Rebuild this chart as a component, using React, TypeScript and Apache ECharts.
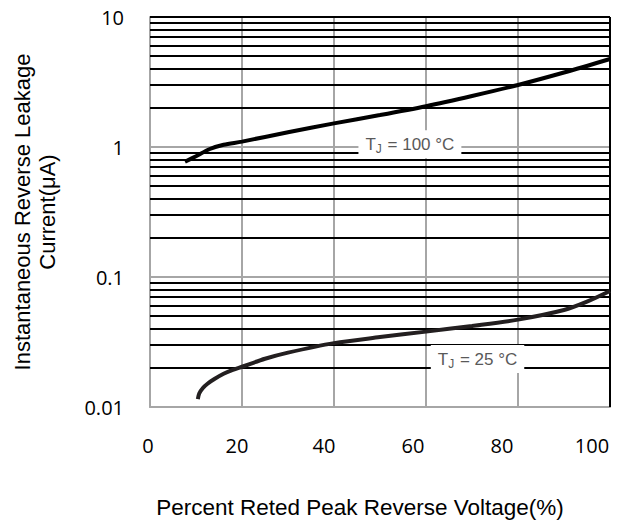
import React, { useEffect, useRef } from "react";
import * as echarts from "echarts";

// ---- data ----
const xTicks = [0, 20, 40, 60, 80, 100];
const yTickLabels = ["0.01", "0.1", "1", "10"];

const x100 = [7.6, 10, 13, 16, 20, 30, 40, 50, 60, 70, 80, 90, 100];
const y100 = [0.77, 0.85, 0.965, 1.04, 1.1, 1.3, 1.52, 1.76, 2.06, 2.47, 3.0, 3.74, 4.75];

const x25 = [10.4, 10.7, 11.5, 12.5, 14, 16, 18, 20, 25, 30, 40, 50, 60, 70, 80, 90, 95, 100];
const y25 = [0.0115, 0.0127, 0.014, 0.0151, 0.0164, 0.018, 0.0193, 0.0204, 0.0235, 0.0262, 0.031, 0.0345, 0.038, 0.042, 0.047, 0.0557, 0.0646, 0.078];

const decades = [0.01, 0.1, 1];
const minorMultipliers = [2, 3, 4, 5, 6, 7, 8, 9];

const label100 = { x: 56.5, y: 1.05, temp: "100" };
const label25 = { x: 71.2, y: 0.0234, temp: "25" };

// label shifts (layout only)
const xLabelShift = [2, 5, 10, 13, 16, 18];

export default function App() {
  const ref = useRef<HTMLDivElement>(null);
  useEffect(() => {
    if (!ref.current) return;
    const chart = echarts.init(ref.current, undefined, { renderer: "svg" });
    const gray = "#a6a6a6";
    const minorLines: any[] = [];
    decades.forEach((d) => minorMultipliers.forEach((m) => minorLines.push({ yAxis: +(d * m).toPrecision(3) })));
    minorLines.push({ yAxis: 10 });
    minorLines.push({ xAxis: 100 });

    const rich: any = {};
    xTicks.forEach((_, i) => {
      rich["s" + i] = {
        fontFamily: "Open Sans",
        fontSize: 20,
        color: "#000",
        padding: [0, xLabelShift[i] * 2, 0, 0],
      };
    });

    const tjRich = {
      a: { fontFamily: "Liberation Sans", fontSize: 17, color: "#595959" },
      b: { fontFamily: "Liberation Sans", fontSize: 12, color: "#595959", padding: [9, 1, 0, 0] },
    };
    const mkLabel = (l: any) => ({
      z: 10,
      symbol: "rect",
      symbolSize: 1,
      itemStyle: { color: "rgba(0,0,0,0)" },
      data: [
        {
          coord: [l.x, l.y],
          label: {
            show: true,
            position: "inside",
            formatter: `{a|T}{b|J}{a| = ${l.temp} °C}`,
            rich: tjRich,
            backgroundColor: "#fff",
            padding: [4, 7, 3, 7],
          },
        },
      ],
    });

    chart.setOption({
      animation: false,
      grid: { left: 150, right: 33, top: 17, bottom: 117 },
      xAxis: {
        type: "value",
        min: 0,
        max: 100,
        interval: 20,
        name: "Percent Reted Peak Reverse Voltage(%)",
        nameLocation: "middle",
        nameGap: 89,
        nameTextStyle: { fontFamily: "Liberation Sans", fontSize: 22.5, color: "#000", padding: [0, 40, 0, 0] },
        axisLine: { show: true, lineStyle: { color: gray, width: 2 } },
        axisTick: { show: false },
        axisLabel: {
          margin: 28,
          formatter: (v: number) => {
            const i = xTicks.indexOf(v);
            return `{s${i}|${v}}`;
          },
          rich,
        },
        splitLine: { show: true, lineStyle: { color: gray, width: 2 } },
      },
      yAxis: {
        type: "log",
        logBase: 10,
        min: 0.01,
        max: 10,
        name: "Instantaneous Reverse Leakage\nCurrent(μA)",
        nameLocation: "middle",
        nameRotate: 90,
        nameGap: 90,
        nameTextStyle: { fontFamily: "Liberation Sans", fontSize: 22, color: "#000", lineHeight: 25 },
        axisLine: { show: true, lineStyle: { color: gray, width: 2 } },
        axisTick: { show: false },
        axisLabel: {
          margin: 26,
          fontFamily: "Open Sans",
          fontSize: 20,
          color: "#000",
          formatter: (v: number) => {
            const idx = Math.round(Math.log10(v)) + 2;
            return yTickLabels[idx] ?? "";
          },
        },
        splitLine: { show: true, lineStyle: { color: gray, width: 2 } },
        minorSplitLine: { show: false },
      },
      series: [
        {
          type: "line",
          name: "minor",
          data: [],
          silent: true,
          markLine: {
            z: 1,
            silent: true,
            symbol: "none",
            label: { show: false },
            lineStyle: { color: "#000", width: 2, type: "solid" },
            data: minorLines,
          },
        },
        {
          type: "line",
          name: "TJ=100",
          z: 3,
          smooth: 0.3,
          showSymbol: false,
          symbol: "none",
          lineStyle: { color: "#000", width: 4 },
          data: x100.map((x, i) => [x, y100[i]]),
          markPoint: mkLabel(label100),
        },
        {
          type: "line",
          name: "TJ=25",
          z: 3,
          smooth: 0.3,
          showSymbol: false,
          symbol: "none",
          lineStyle: { color: "#231f20", width: 4 },
          data: x25.map((x, i) => [x, y25[i]]),
          markPoint: mkLabel(label25),
        },
      ],
    });
    return () => chart.dispose();
  }, []);
  return <div ref={ref} style={{ width: 643, height: 524, position: "absolute", left: 0, top: 0 }} />;
}
